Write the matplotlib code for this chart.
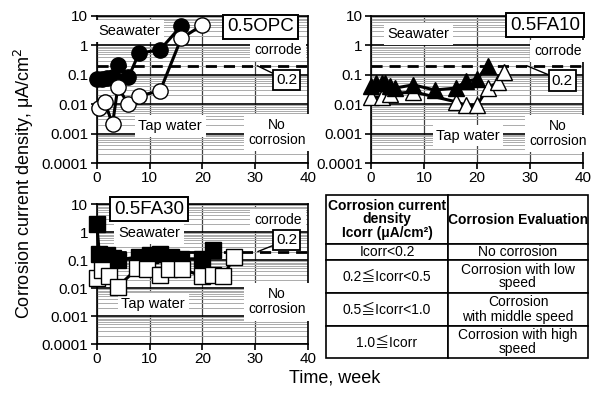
import matplotlib
matplotlib.use("Agg")
import matplotlib.pyplot as plt
import numpy as np
from matplotlib.ticker import LogLocator, NullFormatter

plt.rcParams['font.family'] = ['Liberation Sans', 'Noto Sans CJK JP', 'DejaVu Sans']

# ---- data: corrosion current density (uA/cm2) versus exposure time (weeks) ----
opc_sea_week = [0, 1, 2, 3, 4, 6, 8, 12, 16]
opc_sea_icorr = [0.07, 0.07, 0.075, 0.08, 0.21, 0.08, 0.53, 0.7, 4.5]
opc_tap_week = [0.5, 1.5, 3, 4, 6, 8, 12, 16, 20]
opc_tap_icorr = [0.0073, 0.012, 0.0021, 0.037, 0.01, 0.019, 0.028, 1.7, 4.8]

fa10_sea_week = [0, 1, 2, 2.7, 3.5, 4.5, 8, 12, 16, 18, 20, 22]
fa10_sea_icorr = [0.042, 0.05, 0.05, 0.05, 0.04, 0.035, 0.045, 0.03, 0.035, 0.06, 0.07, 0.2]
fa10_tap_week = [0, 2, 3.5, 8, 16, 18, 20, 22, 24, 25]
fa10_tap_icorr = [0.017, 0.017, 0.022, 0.026, 0.012, 0.009, 0.009, 0.035, 0.055, 0.12]

fa30_sea_week = [0, 0.5, 2, 3, 4, 8, 10, 12, 14, 16, 20, 22]
fa30_sea_icorr = [2.0, 0.17, 0.15, 0.12, 0.1, 0.13, 0.15, 0.17, 0.13, 0.11, 0.11, 0.22]
fa30_tap_week = [0, 1, 2.3, 4, 7.7, 9.6, 12, 13.6, 16.2, 20, 22, 24, 26]
fa30_tap_icorr = [0.022, 0.045, 0.026, 0.011, 0.051, 0.046, 0.029, 0.046, 0.048,
                  0.026, 0.029, 0.027, 0.126]

threshold = 0.2
x_ticks = [0, 10, 20, 30, 40]
y_ticks = [1e-4, 1e-3, 1e-2, 1e-1, 1, 10]
y_tick_labels = ['0.0001', '0.001', '0.01', '0.1', '1', '10']

table_header = ['Corrosion current\ndensity\nIcorr (μA/cm²)', 'Corrosion Evaluation']
table_rows = [
    ['Icorr<0.2', 'No corrosion'],
    ['0.2≦Icorr<0.5', 'Corrosion with low\nspeed'],
    ['0.5≦Icorr<1.0', 'Corrosion\nwith middle speed'],
    ['1.0≦Icorr', 'Corrosion with high\nspeed'],
]

W, H = 597, 393
fig = plt.figure(figsize=(W / 100, H / 100), dpi=100)


def px_axes(x0, y0, x1, y1):
    return fig.add_axes([x0 / W, 1 - y1 / H, (x1 - x0) / W, (y1 - y0) / H])


def style(ax):
    ax.set_yscale('log')
    ax.set_xlim(0, 40)
    ax.set_ylim(1e-4, 10)
    ax.set_xticks(x_ticks)
    ax.set_yticks(y_ticks)
    ax.set_yticklabels(y_tick_labels)
    ax.yaxis.set_minor_locator(LogLocator(base=10, subs=np.arange(2, 10), numticks=30))
    ax.yaxis.set_minor_formatter(NullFormatter())
    ax.tick_params(axis='y', which='minor', length=0)
    ax.tick_params(axis='both', which='major', labelsize=11, length=4, width=1.2,
                   direction='out', pad=2)
    ax.grid(True, axis='y', which='minor', color='#ababab', lw=0.7)
    ax.grid(True, axis='y', which='major', color='black', lw=1.2)
    ax.grid(True, axis='x', which='major', color='#404040', lw=0.9)
    ax.set_axisbelow(True)
    for s in ax.spines.values():
        s.set_linewidth(1.2)
    ax.axhline(threshold, color='black', lw=2, dashes=(4, 2.5), zorder=2)


def label(ax, x, y, s, size=10.5, pad=0.25):
    ax.text(x, y, s, ha='center', va='center', fontsize=size, zorder=3,
            linespacing=1.1,
            bbox=dict(boxstyle=f'square,pad={pad}', fc='white', ec='none'))


def series(ax, wk, val, marker, face):
    ax.plot(wk, val, color='black', lw=2.2, marker=marker, ms=11,
            mfc=face, mec='black', mew=1.0, clip_on=False, zorder=4)


def panel(ax, title, title_xy, sea_xy, tap_xy, corrode_xy, nocorr_xy,
          thr_from, thr_box):
    style(ax)
    label(ax, *sea_xy, 'Seawater')
    label(ax, *tap_xy, 'Tap water')
    label(ax, *corrode_xy, 'corrode', size=10, pad=0.3)
    label(ax, *nocorr_xy, 'No\ncorrosion', size=10, pad=0.3)
    ax.annotate('0.2', xy=thr_from, xytext=thr_box, ha='center', va='center',
                fontsize=11, zorder=5,
                arrowprops=dict(arrowstyle='-', color='black', lw=1.0,
                                shrinkA=0, shrinkB=0),
                bbox=dict(boxstyle='square,pad=0.2', fc='white', ec='black', lw=1.3))
    ax.text(*title_xy, title, ha='center', va='center', fontsize=13.5, zorder=5,
            bbox=dict(boxstyle='square,pad=0.2', fc='white', ec='black', lw=1.4))


ax1 = px_axes(96.7, 15.7, 308, 163)
panel(ax1, '0.5OPC', (31.0, 4.2), (6.1, 3.0), (13.9, 0.0018), (34.3, 0.69),
      (34.1, 0.0011), (30.4, threshold), (36.0, 0.065))
series(ax1, opc_sea_week, opc_sea_icorr, 'o', 'black')
series(ax1, opc_tap_week, opc_tap_icorr, 'o', 'white')

ax2 = px_axes(371, 15.7, 583, 163)
panel(ax2, '0.5FA10', (32.8, 4.8), (8.9, 2.4), (18.3, 0.00085), (35.3, 0.64),
      (35.3, 0.001), (29.4, threshold), (36.1, 0.063))
series(ax2, fa10_tap_week, fa10_tap_icorr, '^', 'white')
series(ax2, fa10_sea_week, fa10_sea_icorr, '^', 'black')

ax3 = px_axes(96.7, 204, 308, 344)
panel(ax3, '0.5FA30', (9.9, 6.6), (9.9, 0.92), (10.7, 0.0027), (34.3, 2.7),
      (34.1, 0.0032), (30.5, threshold), (36.0, 0.52))
series(ax3, fa30_sea_week, fa30_sea_icorr, 's', 'black')
series(ax3, fa30_tap_week, fa30_tap_icorr, 's', 'white')

# classification table
tax = px_axes(326, 195, 588, 358)
tax.axis('off')
tbl = tax.table(cellText=table_rows, colLabels=table_header, cellLoc='center',
                colWidths=[0.466, 0.534], bbox=[0, 0, 1, 1])
tbl.auto_set_font_size(False)
tbl.set_fontsize(10)
row_heights = [49, 16, 33, 33, 32]
for (r, c), cell in tbl.get_celld().items():
    cell.set_height(row_heights[r])
    cell.set_linewidth(1.2)
    cell.get_text().set_linespacing(1.0)
    if r == 0:
        cell.get_text().set_fontweight('bold')

fig.text(0.040, 0.534, 'Corrosion current density, μA/cm$^2$', rotation=90,
         ha='center', va='center', fontsize=13)
fig.text(335 / W, 1 - 378 / H, 'Time, week', ha='center', va='center', fontsize=13)

fig.savefig('out.png', dpi=100)
